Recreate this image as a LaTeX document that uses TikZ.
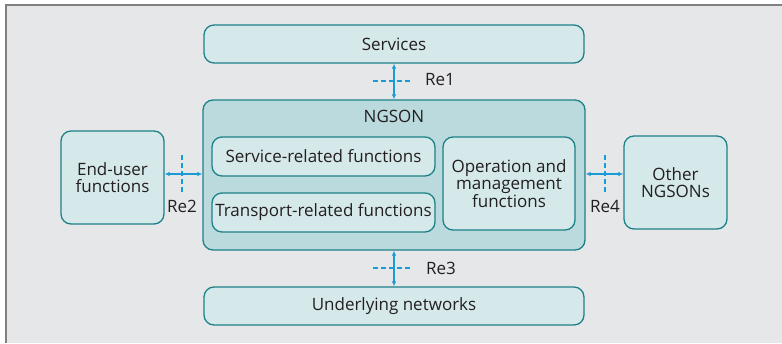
\documentclass[tikz,border=0pt]{standalone}
\usepackage{fontspec}
\setmainfont{Open Sans}
\usetikzlibrary{arrows.meta,positioning}

\definecolor{framegray}{HTML}{E6E7E9}
\definecolor{boxfill}{HTML}{D5E8EA}
\definecolor{ngsonfill}{HTML}{BADADD}
\definecolor{boxline}{HTML}{1D8189}
\definecolor{linkblue}{HTML}{1A9AD6}
\definecolor{textdark}{HTML}{231F20}

\tikzset{
 funcbox/.style={draw=boxline, fill=boxfill, line width=1.3pt, rounded corners=10pt,
  align=center, text=textdark, inner sep=0pt},
 ngsonbox/.style={funcbox, fill=ngsonfill},
 reflink/.style={linkblue, line width=1.3pt, {Latex[length=5pt,width=4.5pt]}-{Latex[length=5pt,width=4.5pt]}},
 refcut/.style={draw=linkblue, line width=1.1pt, dash pattern=on 4.5pt off 3.5pt},
 reflabel/.style={text=textdark, inner sep=0pt}
}

\begin{document}
\begin{tikzpicture}[x=1pt,y=-1pt,font=\fontsize{17}{17.5}\selectfont]
 \useasboundingbox (0,0) rectangle (782,343);
 \fill[framegray] (6,5) rectangle (782,343);
 \draw[gray, line width=1.2pt] (6,343) -- (6,5) -- (782,5);
 % boxes
 \node[funcbox, minimum width=380pt, minimum height=38pt] (services) at (394,44) {Services};
 \node[ngsonbox, minimum width=382pt, minimum height=150pt,
  label={[anchor=north, text=textdark, yshift=-7pt]north:NGSON}] (ngson) at (394,175) {};
 \node[funcbox, minimum width=223pt, minimum height=39pt] (servfn) at (323.5,156.5) {Service-related functions};
 \node[funcbox, minimum width=223pt, minimum height=39pt] (transfn) at (323.5,212.5) {Transport-related functions};
 \node[funcbox, minimum width=132pt, minimum height=93pt] (oamfn) at (509,183.5) {Operation and\\management\\functions};
 \node[funcbox, minimum width=103pt, minimum height=93pt] (enduser) at (112.5,177.5) {End-user\\functions};
 \node[funcbox, minimum width=103pt, minimum height=93pt] (others) at (675.5,182.5) {Other\\NGSONs};
 \node[funcbox, minimum width=380pt, minimum height=38pt] (underlay) at (394,306) {Underlying networks};
 % reference points
 \draw[reflink] (services.south) -- (ngson.north);
 \draw[reflink] (ngson.south) -- (underlay.north);
 \draw[reflink] (enduser.east |- 0,174) -- (ngson.west |- 0,174);
 \draw[reflink] (ngson.east |- 0,174) -- (others.west |- 0,174);
 \coordinate (c1) at (393,81);
 \coordinate (c2) at (182,174);
 \coordinate (c3) at (393,268);
 \coordinate (c4) at (605,174);
 \draw[refcut] ([xshift=-20pt]c1) -- ([xshift=20pt]c1);
 \draw[refcut] ([xshift=-20pt]c3) -- ([xshift=20pt]c3);
 \draw[refcut] ([yshift=19pt]c2) -- ([yshift=-19pt]c2);
 \draw[refcut] ([yshift=19pt]c4) -- ([yshift=-19pt]c4);
 \node[reflabel] (re1) at (440,80) {Re1};
 \node[reflabel] (re2) at (182,206) {Re2};
 \node[reflabel] (re3) at (441,268) {Re3};
 \node[reflabel] (re4) at (605,206) {Re4};
\end{tikzpicture}
\end{document}
